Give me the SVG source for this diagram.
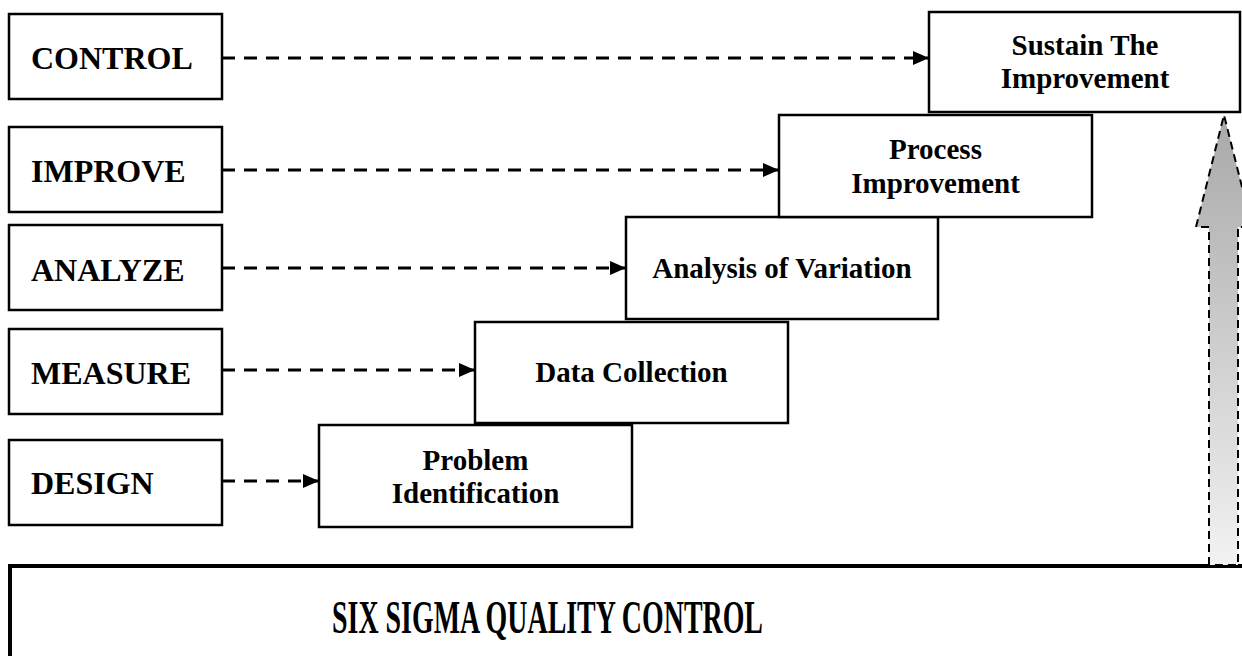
<svg xmlns="http://www.w3.org/2000/svg" width="1242" height="656" viewBox="0 0 1242 656">
<style>
.box{fill:#fff;stroke:#000;stroke-width:2.5}
text{font-family:"Times New Roman","Liberation Serif",Tinos,Times,serif;font-weight:700;fill:#000}
.lbl{font-size:32px}
.stp{font-size:29px;text-anchor:middle}
.con{stroke:#000;stroke-width:3;stroke-dasharray:13 9;fill:none;marker-end:url(#ah)}
</style>
<defs>
<marker id="ah" markerUnits="userSpaceOnUse" markerWidth="16" markerHeight="14" refX="16" refY="7" orient="auto">
<path d="M0,0 L16,7 L0,14 Z" fill="#000"/>
</marker>
<linearGradient id="g" x1="0" y1="0" x2="0" y2="1">
<stop offset="0" stop-color="#a8a8a8"/>
<stop offset="1" stop-color="#f2f2f2"/>
</linearGradient>
</defs>
<rect width="1242" height="656" fill="#fff"/>

<g id="foundation">
<rect x="10" y="566" width="1250" height="100" fill="#fff" stroke="#000" stroke-width="4"/>
<text x="332" y="633" font-size="46" textLength="431" lengthAdjust="spacingAndGlyphs">SIX SIGMA QUALITY CONTROL</text>
</g>

<g id="bigArrow">
<path d="M1209,565 L1209,227 L1196,227 L1224,115 L1252,227 L1238,227 L1238,565 Z" fill="url(#g)" stroke="#000" stroke-width="2" stroke-dasharray="8 5"/>
</g>

<g id="design"><rect class="box" x="9" y="440" width="213" height="85"/><text class="lbl" x="31" y="494">DESIGN</text></g>
<g id="measure"><rect class="box" x="9" y="329" width="213" height="85"/><text class="lbl" x="31" y="384">MEASURE</text></g>
<g id="analyze"><rect class="box" x="9" y="225" width="213" height="85"/><text class="lbl" x="31" y="281">ANALYZE</text></g>
<g id="improve"><rect class="box" x="9" y="127" width="213" height="85"/><text class="lbl" x="31" y="182">IMPROVE</text></g>
<g id="control"><rect class="box" x="9" y="14" width="213" height="85"/><text class="lbl" x="31" y="69">CONTROL</text></g>

<g id="problem"><rect class="box" x="319" y="425" width="313" height="102"/><text class="stp" x="475.5" y="470">Problem</text><text class="stp" x="475.5" y="503">Identification</text></g>
<g id="data"><rect class="box" x="475" y="322" width="313" height="101"/><text class="stp" x="631.5" y="382">Data Collection</text></g>
<g id="analysis"><rect class="box" x="626" y="217" width="312" height="102"/><text class="stp" x="782" y="278">Analysis of Variation</text></g>
<g id="process"><rect class="box" x="779" y="115" width="313" height="102"/><text class="stp" x="935.5" y="159">Process</text><text class="stp" x="935.5" y="193">Improvement</text></g>
<g id="sustain"><rect class="box" x="929" y="12" width="311" height="100"/><text class="stp" x="1085" y="55">Sustain The</text><text class="stp" x="1085" y="88">Improvement</text></g>

<g id="connectors">
<line class="con" x1="222" y1="58" x2="929" y2="58"/>
<line class="con" x1="222" y1="170" x2="779" y2="170"/>
<line class="con" x1="222" y1="268" x2="626" y2="268"/>
<line class="con" x1="222" y1="370" x2="475" y2="370"/>
<line class="con" x1="222" y1="481" x2="319" y2="481"/>
</g>
</svg>
